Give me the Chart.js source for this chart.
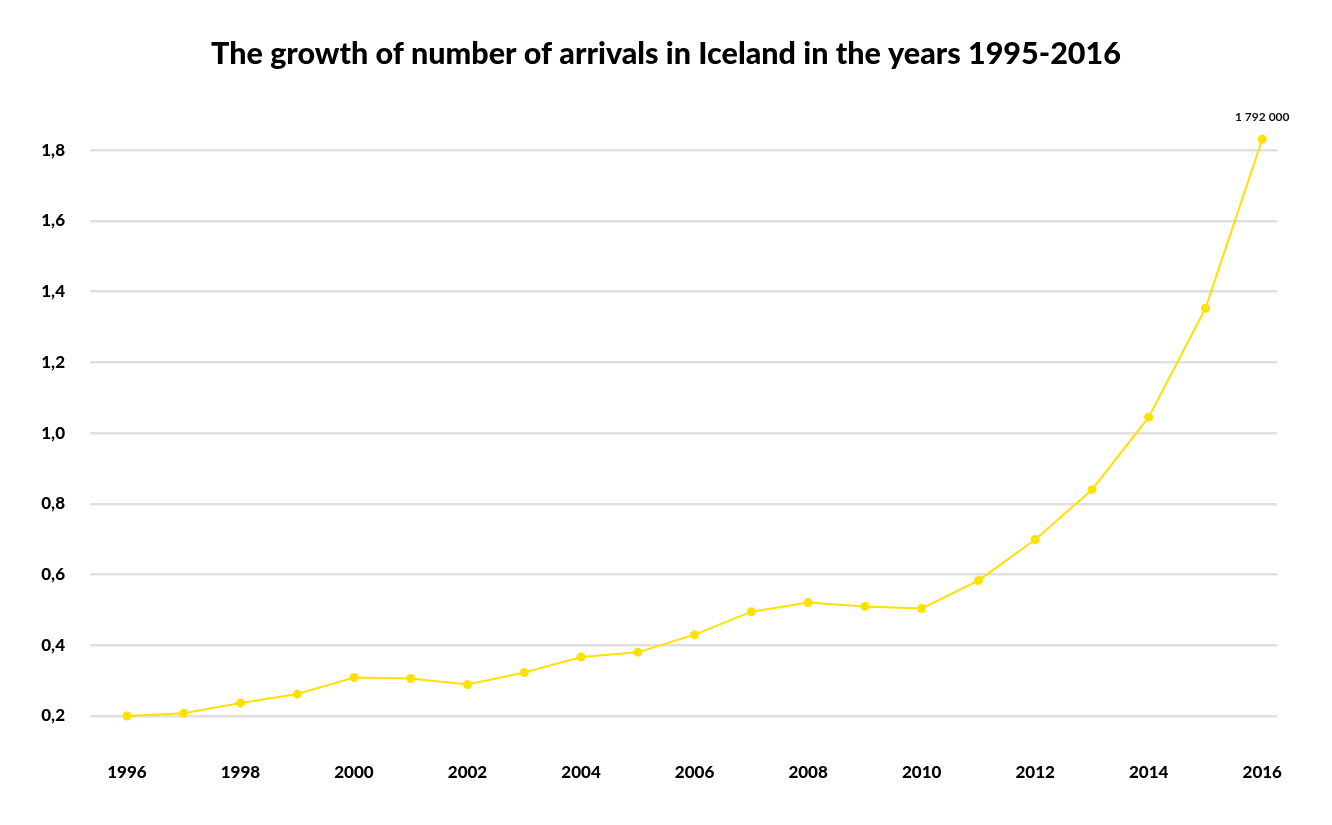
<!DOCTYPE html>
<html>
<head>
<meta charset="utf-8">
<title>Arrivals in Iceland 1995-2016</title>
<script src="https://cdn.jsdelivr.net/npm/chart.js@4.4.0/dist/chart.umd.min.js"></script>
<style>
  html, body { margin: 0; padding: 0; background: #fff; }
  #wrap { width: 1332px; height: 825px; position: relative; }
</style>
</head>
<body>
<div id="wrap"><canvas id="arrivals"></canvas></div>
<script>
// data (millions of arrivals)
const years = [1996, 1997, 1998, 1999, 2000, 2001, 2002, 2003, 2004, 2005, 2006,
               2007, 2008, 2009, 2010, 2011, 2012, 2013, 2014, 2015, 2016];
const arrivals = [0.200, 0.208, 0.237, 0.262, 0.309, 0.306, 0.289, 0.323, 0.367, 0.380, 0.430,
                  0.495, 0.521, 0.510, 0.504, 0.583, 0.699, 0.840, 1.045, 1.353, 1.831];
const xTicks = [1996, 1998, 2000, 2002, 2004, 2006, 2008, 2010, 2012, 2014, 2016];
const yTicks = [0.2, 0.4, 0.6, 0.8, 1.0, 1.2, 1.4, 1.6, 1.8];
const titleText = 'The growth of number of arrivals in Iceland in the years 1995-2016';
const lastLabel = '1 792 000';

const yellow = '#ffe100';

// title centred on the whole canvas + label over the final point
const annotations = {
  id: 'annotations',
  afterDraw(chart) {
    const ctx = chart.ctx;
    ctx.save();
    ctx.fillStyle = '#000';
    ctx.textAlign = 'center';
    ctx.textBaseline = 'middle';
    ctx.font = '900 30.5px Lato';
    ctx.fillText(titleText, chart.width / 2, 54);

    const meta = chart.getDatasetMeta(0);
    const pt = meta.data[meta.data.length - 1];
    ctx.font = 'bold 12px Lato';
    ctx.fillStyle = '#111';
    ctx.fillText(lastLabel, pt.x, pt.y - 22);
    ctx.restore();
  }
};

new Chart(document.getElementById('arrivals'), {
  type: 'line',
  data: {
    datasets: [{
      data: years.map((y, i) => ({ x: y, y: arrivals[i] })),
      borderColor: yellow,
      backgroundColor: yellow,
      borderWidth: 2,
      pointRadius: 4.5,
      pointBackgroundColor: yellow,
      pointBorderWidth: 0,
      tension: 0,
      clip: false
    }]
  },
  options: {
    responsive: true,
    maintainAspectRatio: false,
    animation: false,
    layout: { padding: { left: 0, right: 55, top: 129, bottom: 0 } },
    plugins: {
      legend: { display: false },
      tooltip: { enabled: false },
      title: { display: false }
    },
    scales: {
      x: {
        type: 'linear',
        min: 1995.35,
        max: 2016.26,
        afterBuildTicks: (scale) => { scale.ticks = xTicks.map(v => ({ value: v })); },
        afterFit: (scale) => { scale.height = 109; },
        grid: { display: false, drawTicks: false },
        border: { display: false },
        ticks: {
          padding: 46,
          color: '#000',
          font: { family: 'Lato', size: 17, weight: 900 },
          maxRotation: 0,
          callback: (v) => String(v)
        }
      },
      y: {
        min: 0.2,
        max: 1.86,
        afterBuildTicks: (scale) => { scale.ticks = yTicks.map(v => ({ value: v })); },
        afterFit: (scale) => { scale.width = 90; },
        grid: { color: '#e0e0e0', lineWidth: 2.5, drawTicks: false },
        border: { display: false },
        ticks: {
          padding: 25,
          color: '#000',
          font: { family: 'Lato', size: 17, weight: 900 },
          callback: (v) => v.toFixed(1).replace('.', ',')
        }
      }
    }
  },
  plugins: [annotations]
});
</script>
</body>
</html>
